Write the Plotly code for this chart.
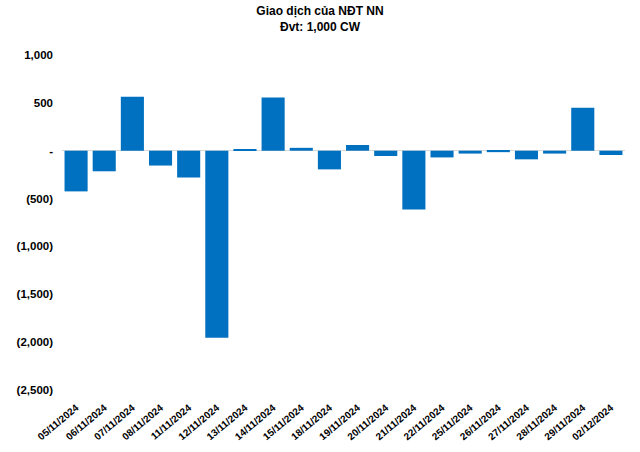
import plotly.graph_objects as go

dates = ["05/11/2024", "06/11/2024", "07/11/2024", "08/11/2024", "11/11/2024",
         "12/11/2024", "13/11/2024", "14/11/2024", "15/11/2024", "18/11/2024",
         "19/11/2024", "20/11/2024", "21/11/2024", "22/11/2024", "25/11/2024",
         "26/11/2024", "27/11/2024", "28/11/2024", "29/11/2024", "02/12/2024"]
values = [-425, -215, 565, -155, -280,
          -1955, 12, 555, 30, -195,
          60, -55, -615, -70, -30,
          -15, -90, -30, 450, -45]
tick_vals = [1000, 500, 0, -500, -1000, -1500, -2000, -2500]
tick_text = ["1,000", "500", "-", "(500)", "(1,000)", "(1,500)", "(2,000)", "(2,500)"]

FONT = "Liberation Sans, Arial, sans-serif"

fig = go.Figure(go.Bar(x=dates, y=values, marker_color="#0070C0",
                       marker_line_width=0))

fig.update_layout(
    width=640, height=452,
    margin=dict(l=62, r=15, t=55, b=62),
    paper_bgcolor="white", plot_bgcolor="white",
    bargap=0.18,
    showlegend=False,
    title=dict(text="Giao dịch của NĐT NN<br>Đvt: 1,000 CW",
               x=0.5, xanchor="center", y=0.967, yanchor="top",
               font=dict(family=FONT, size=12, color="black", weight="bold")),
)
fig.update_xaxes(showgrid=False, showline=False, zeroline=False,
                 tickangle=-40, automargin=False, ticklabelstandoff=9,
                 tickfont=dict(family=FONT, size=10, color="black", weight="bold"))
fig.update_yaxes(range=[-2500, 1000], tickvals=tick_vals, ticktext=tick_text,
                 showgrid=False, showline=False, zeroline=True,
                 zerolinecolor="#d9d9d9", zerolinewidth=1, automargin=False,
                 ticklabelstandoff=8,
                 tickfont=dict(family=FONT, size=11.5, color="black", weight="bold"))

fig.write_html("out.html", config={"displayModeBar": False},
               post_script="document.body.style.margin='0';")
